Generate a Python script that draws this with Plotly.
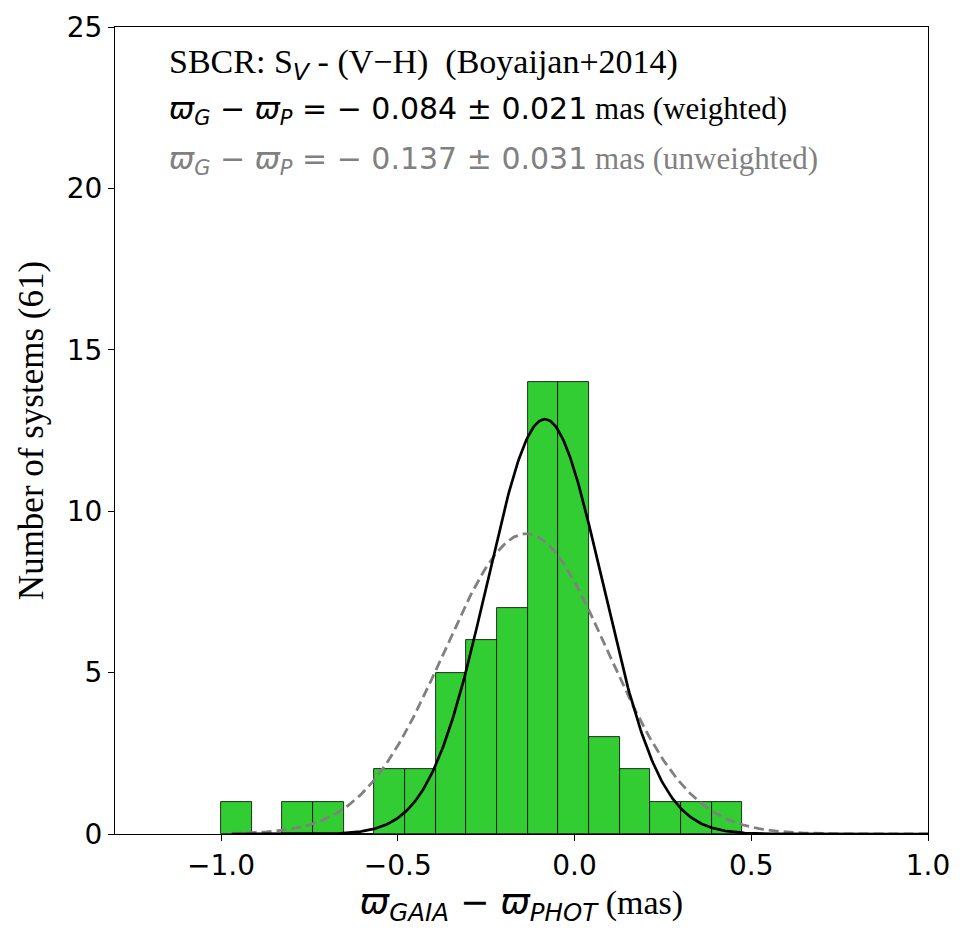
import numpy as np
import plotly.graph_objects as go

# Histogram data (17 bins from -1.0 to ~0.475 mas)
bin_start = -1.0
bin_end = 0.475
counts = [1, 0, 1, 1, 0, 2, 2, 5, 6, 7, 14, 14, 3, 2, 1, 1, 1]

# Gaussian fit parameters
weighted_mean, weighted_sigma, weighted_amp = -0.084, 0.163, 12.85
unweighted_mean, unweighted_sigma, unweighted_amp = -0.137, 0.232, 9.3

nb = len(counts)
width = (bin_end - bin_start) / nb
centers = [bin_start + width * (i + 0.5) for i in range(nb)]

xc = np.linspace(-0.97, 1.0, 500)
yw = weighted_amp * np.exp(-0.5 * ((xc - weighted_mean) / weighted_sigma) ** 2)
yu = unweighted_amp * np.exp(-0.5 * ((xc - unweighted_mean) / unweighted_sigma) ** 2)

fig = go.Figure()
fig.add_trace(go.Bar(x=centers, y=counts, width=width,
                     marker=dict(color="#32CD32", line=dict(color="black", width=0.8)),
                     showlegend=False))
fig.add_trace(go.Scatter(x=xc, y=yu, mode="lines",
                         line=dict(color="#808080", width=2.8, dash="10px,5px"),
                         showlegend=False))
fig.add_trace(go.Scatter(x=xc, y=yw, mode="lines",
                         line=dict(color="black", width=2.7),
                         showlegend=False))

SERIF = "Liberation Serif, Times New Roman, serif"
SANS = "DejaVu Sans, sans-serif"

fig.update_layout(
    width=969, height=940,
    margin=dict(l=115, r=41, t=27, b=106),
    plot_bgcolor="white", paper_bgcolor="white",
    bargap=0,
    font=dict(family=SANS, color="black"),
)
fig.update_xaxes(range=[-1.3, 1.0], tickvals=[-1.0, -0.5, 0.0, 0.5, 1.0],
                 tickformat=".1f", ticks="outside", ticklen=6, tickwidth=1,
                 tickcolor="black", showline=True, linecolor="black", linewidth=1.2,
                 mirror=True, showgrid=False, zeroline=False,
                 tickfont=dict(family=SANS, size=28),
                 title=dict(text="<span style='font-family:DejaVu Sans;font-size:35px'><i>ϖ</i><sub><i>GAIA</i></sub> − <i>ϖ</i><sub><i>PHOT</i></sub></span> (mas)",
                            font=dict(family=SERIF, size=34), standoff=4))
fig.update_yaxes(range=[0, 25], tickvals=[0, 5, 10, 15, 20, 25],
                 ticks="outside", ticklen=6, tickwidth=1, tickcolor="black",
                 showline=True, linecolor="black", linewidth=1.2, mirror=True,
                 showgrid=False, zeroline=False,
                 tickfont=dict(family=SANS, size=28),
                 title=dict(text="Number of systems (61)",
                            font=dict(family=SERIF, size=35), standoff=12))

ann = [
    ("SBCR: S<sub><span style='font-family:DejaVu Sans'><i>V</i></span></sub> - (V−H)  (Boyaijan+2014)", "black", 0.953, 34),
    ("<span style='font-family:DejaVu Sans;font-size:30px'><i>ϖ</i><sub><i>G</i></sub> − <i>ϖ</i><sub><i>P</i></sub> = − 0.084 ± 0.021</span> mas (weighted)", "black", 0.897, 31),
    ("<span style='font-family:DejaVu Sans;font-size:30px'><i>ϖ</i><sub><i>G</i></sub> − <i>ϖ</i><sub><i>P</i></sub> = − 0.137 ± 0.031</span> mas (unweighted)", "#808080", 0.835, 31),
]
for text, color, y, size in ann:
    fig.add_annotation(text=text, xref="paper", yref="paper", x=0.064, y=y,
                       xanchor="left", yanchor="middle", showarrow=False,
                       font=dict(family=SERIF, size=size, color=color))

fig.write_html("out.html")
